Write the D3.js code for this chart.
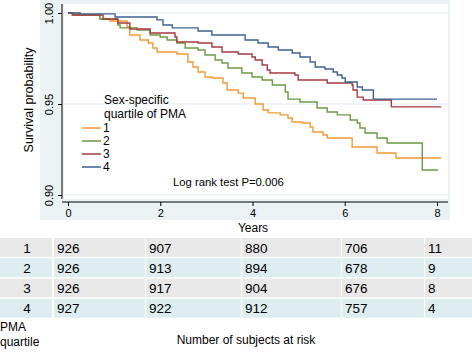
<!DOCTYPE html>
<html>
<head>
<meta charset="utf-8">
<script src="https://cdn.jsdelivr.net/npm/d3@7"></script>
<style>
  body { margin: 0; background: #fff; }
  svg { font-family: "Liberation Sans", Arial, sans-serif; display: block; }
</style>
</head>
<body>
<div class="km-container"></div>
<script>
// Kaplan-Meier steps: [years, survival after the drop]
const quartile1 = [[0, 1], [0.26, 0.9989], [0.69, 0.9967], [0.91, 0.9956], [1.28, 0.9923], [1.34, 0.9879],
    [1.56, 0.9852], [1.74, 0.9835], [1.84, 0.9808], [1.93, 0.9786], [2.36, 0.9775], [2.60, 0.9731],
    [2.71, 0.9703], [2.82, 0.9676], [2.97, 0.9648], [3.12, 0.9643], [3.36, 0.9615], [3.45, 0.9577],
    [3.69, 0.9560], [3.80, 0.9533], [4.06, 0.9500], [4.23, 0.9467], [4.34, 0.9451], [4.60, 0.9440],
    [4.77, 0.9423], [4.86, 0.9401], [5.08, 0.9396], [5.25, 0.9374], [5.31, 0.9346], [5.53, 0.9330],
    [5.62, 0.9313], [6.16, 0.9264], [6.70, 0.9231], [7.11, 0.9203], [8.09, 0.9203]];
const quartile2 = [[0, 1], [0.11, 0.9989], [0.69, 0.9967], [1.08, 0.9934], [1.13, 0.9918], [1.50, 0.9907],
    [1.78, 0.9879], [2.00, 0.9868], [2.15, 0.9852], [2.36, 0.9835], [2.54, 0.9808], [2.82, 0.9797],
    [2.97, 0.9769], [3.19, 0.9742], [3.34, 0.9725], [3.47, 0.9698], [3.77, 0.9670], [3.99, 0.9648],
    [4.21, 0.9632], [4.43, 0.9604], [4.71, 0.9566], [4.77, 0.9527], [5.03, 0.9511], [5.40, 0.9478],
    [5.62, 0.9456], [5.84, 0.9440], [6.12, 0.9412], [6.27, 0.9396], [6.33, 0.9368], [6.44, 0.9341],
    [6.70, 0.9313], [6.92, 0.9286], [7.68, 0.9137], [8.02, 0.9137]];
const quartile3 = [[0, 1], [0.09, 0.9989], [0.76, 0.9967], [1.08, 0.9945], [1.34, 0.9912], [1.78, 0.9890],
    [2.32, 0.9868], [2.36, 0.9841], [2.82, 0.9835], [3.12, 0.9813], [3.34, 0.9786], [3.69, 0.9775],
    [3.99, 0.9758], [4.06, 0.9742], [4.21, 0.9714], [4.32, 0.9687], [4.38, 0.9670], [4.92, 0.9659],
    [4.99, 0.9632], [5.62, 0.9615], [6.16, 0.9604], [6.18, 0.9577], [6.27, 0.9538], [6.40, 0.9522],
    [7.01, 0.9484], [8.09, 0.9484]];
const quartile4 = [[0, 1], [0.26, 0.9995], [1.02, 0.9978], [1.93, 0.9962], [2.06, 0.9934], [2.26, 0.9918],
    [2.82, 0.9901], [3.12, 0.9879], [3.84, 0.9852], [4.12, 0.9835], [4.34, 0.9813], [4.56, 0.9797],
    [4.86, 0.9780], [5.03, 0.9758], [5.25, 0.9731], [5.36, 0.9703], [5.57, 0.9692], [5.75, 0.9676],
    [5.84, 0.9659], [5.94, 0.9643], [6.01, 0.9621], [6.27, 0.9593], [6.38, 0.9577], [6.62, 0.9527],
    [8.00, 0.9527]];

const seriesNames = ["1", "2", "3", "4"];
const seriesColors = ["#f39a35", "#6b9a42", "#a63a40", "#3f6291"];
const yTicks = [0.90, 0.95, 1.00];
const xTicks = [0, 2, 4, 6, 8];

// numbers at risk table
const riskRows = ["1", "2", "3", "4"];
const atRisk1 = [926, 907, 880, 706, 11];
const atRisk2 = [926, 913, 894, 678, 9];
const atRisk3 = [926, 917, 904, 676, 8];
const atRisk4 = [927, 922, 912, 757, 4];

const width = 472, height = 353;
const svg = d3.select(".km-container").append("svg")
    .attr("width", width)
    .attr("height", height);

const x = d3.scaleLinear().domain([0, 8]).range([68, 437]);
const y = d3.scaleLinear().domain([0.90, 1.00]).range([195, 13]);

// stata-ish backgrounds
svg.append("rect").attr("x", 40).attr("y", 0).attr("width", 410).attr("height", 220).attr("fill", "#eaf2f3");
svg.append("rect").attr("x", 64).attr("y", 4).attr("width", 384).attr("height", 195).attr("fill", "#fff");

// gridlines
svg.append("g").selectAll("line")
    .data(yTicks)
    .enter().append("line")
    .attr("x1", 64).attr("x2", 448)
    .attr("y1", d => y(d)).attr("y2", d => y(d))
    .attr("stroke", "#e1ecf1").attr("stroke-width", 1);

// y axis
const yAxis = svg.append("g")
    .attr("transform", "translate(62,0)")
    .call(d3.axisLeft(y).tickValues(yTicks).tickFormat(d3.format(".2f")).tickSize(4).tickSizeOuter(0));
yAxis.select(".domain").remove();
yAxis.append("line").attr("x1", 0).attr("x2", 0).attr("y1", 4).attr("y2", 199).attr("stroke", "#000");
yAxis.selectAll(".tick line").attr("stroke", "#000");
yAxis.selectAll(".tick text")
    .attr("x", 0).attr("dy", 0)
    .attr("transform", "translate(-9,0) rotate(-90)")
    .attr("text-anchor", "middle")
    .attr("fill", "#000")
    .style("font-size", "11px")
    .style("font-family", "Liberation Sans, Arial, sans-serif");

// x axis
const xAxis = svg.append("g")
    .attr("transform", "translate(0,202)")
    .call(d3.axisBottom(x).tickValues(xTicks).tickSize(4).tickSizeOuter(0));
xAxis.select(".domain").remove();
xAxis.append("line").attr("x1", 62).attr("x2", 448).attr("y1", 0).attr("y2", 0).attr("stroke", "#000");
xAxis.selectAll(".tick line").attr("stroke", "#000");
xAxis.selectAll(".tick text")
    .attr("y", 7)
    .attr("fill", "#000")
    .style("font-size", "11px")
    .style("font-family", "Liberation Sans, Arial, sans-serif");

svg.append("text").attr("x", 253).attr("y", 232).attr("text-anchor", "middle")
    .style("font-size", "12px").text("Years");
svg.append("text").attr("transform", "translate(33,100) rotate(-90)").attr("text-anchor", "middle")
    .style("font-size", "12.5px").text("Survival probability");

// curves
const line = d3.line()
    .x(d => x(d[0]))
    .y(d => y(d[1]))
    .curve(d3.curveStepAfter);

const curves = [quartile1, quartile2, quartile3, quartile4];
svg.append("g").selectAll("path")
    .data(curves)
    .enter().append("path")
    .attr("d", line)
    .attr("fill", "none")
    .attr("stroke", (d, i) => seriesColors[i])
    .attr("stroke-width", 1.4);

// legend
const legend = svg.append("g").style("font-size", "12px");
legend.append("text").attr("x", 104).attr("y", 104).text("Sex-specific");
legend.append("text").attr("x", 104).attr("y", 118).text("quartile of PMA");
seriesNames.forEach((name, i) => {
    const ly = 128 + i * 13;
    legend.append("line").attr("x1", 82).attr("x2", 101).attr("y1", ly).attr("y2", ly)
        .attr("stroke", seriesColors[i]).attr("stroke-width", 1.5);
    legend.append("text").attr("x", 103).attr("y", ly + 4).text(name);
});

svg.append("text").attr("x", 173).attr("y", 186).style("font-size", "11.3px").text("Log rank test P=0.006");

// at-risk table
const colEdges = [0, 53, 145, 241, 341, 424, 472];
const rowTop = 238, rowH = 20.3;
const rowFills = ["#e8e8e8", "#ddedf0", "#e8e8e8", "#ddedf0"];
const tableData = [atRisk1, atRisk2, atRisk3, atRisk4];

const table = svg.append("g").style("font-size", "13.5px");
tableData.forEach((vals, r) => {
    const ty = rowTop + r * rowH;
    const cells = [riskRows[r]].concat(vals);
    cells.forEach((v, c) => {
        table.append("rect")
            .attr("x", colEdges[c] + (c ? 1 : 0)).attr("y", ty)
            .attr("width", colEdges[c + 1] - colEdges[c] - 1).attr("height", rowH - 1.5)
            .attr("fill", rowFills[r]);
        table.append("text")
            .attr("x", c === 0 ? 27 : colEdges[c] + 4)
            .attr("y", ty + 14.5)
            .attr("text-anchor", c === 0 ? "middle" : "start")
            .text(v);
    });
});

svg.append("text").attr("x", 0).attr("y", 331).style("font-size", "12px").text("PMA");
svg.append("text").attr("x", 0).attr("y", 346).style("font-size", "12px").text("quartile");
svg.append("text").attr("x", 246).attr("y", 344).attr("text-anchor", "middle")
    .style("font-size", "12px").text("Number of subjects at risk");
</script>
</body>
</html>
